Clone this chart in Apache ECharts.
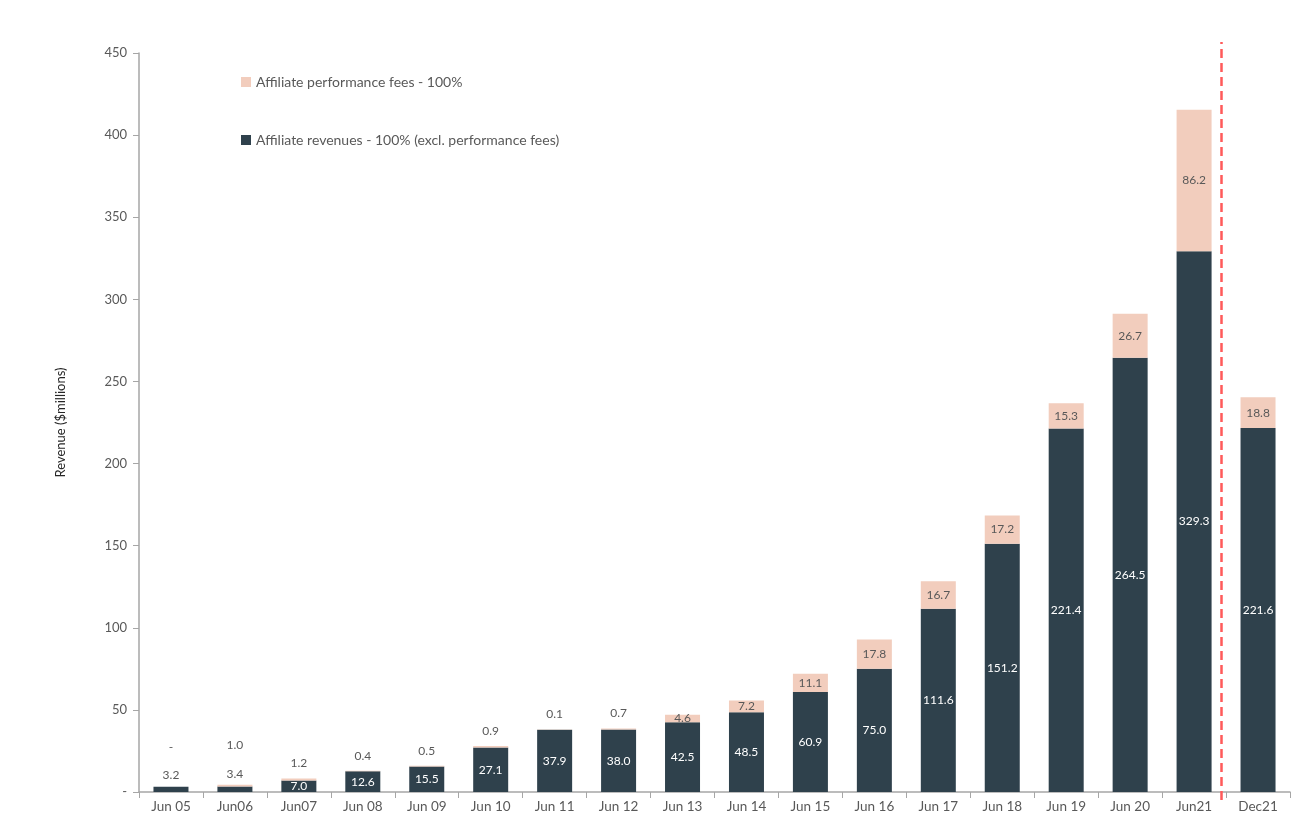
<!DOCTYPE html>
<html>
<head>
<meta charset="utf-8">
<script src="https://cdn.jsdelivr.net/npm/echarts@6/dist/echarts.min.js"></script>
<style>
  html, body { margin: 0; padding: 0; background: #ffffff; }
  #chart { width: 1309px; height: 825px; }
</style>
</head>
<body>
<div id="chart"></div>
<script>
// Periods on the x axis
const categories = ['Jun 05', 'Jun06', 'Jun07', 'Jun 08', 'Jun 09', 'Jun 10', 'Jun 11', 'Jun 12', 'Jun 13',
  'Jun 14', 'Jun 15', 'Jun 16', 'Jun 17', 'Jun 18', 'Jun 19', 'Jun 20', 'Jun21', 'Dec21'];
// Affiliate revenues excluding performance fees ($m)
const revenues = [3.2, 3.4, 7.0, 12.6, 15.5, 27.1, 37.9, 38.0, 42.5, 48.5, 60.9, 75.0, 111.6, 151.2, 221.4, 264.5, 329.3, 221.6];
// Affiliate performance fees ($m)
const perfFees = [0, 1.0, 1.2, 0.4, 0.5, 0.9, 0.1, 0.7, 4.6, 7.2, 11.1, 17.8, 16.7, 17.2, 15.3, 26.7, 86.2, 18.8];
// Position of the divider between the fiscal year-ends and the half-year (in category units)
const dividerAt = [16.93];

const DARK = '#2f414c';
const PINK = '#f2cdbd';
const TEXT = '#595959';
const FONT = 'Lato';

const fmt = v => (v === 0 ? '-' : v.toFixed(1));

// Revenue bars: white label inside; tiny bars get a grey label above
const revData = revenues.map(v => {
  const small = v < 5;
  return {
    value: v,
    label: small
      ? { position: 'top', color: TEXT, distance: 6 }
      : { position: 'inside', color: '#ffffff' }
  };
});

// Performance-fee bars: label inside when the bar is tall enough, above otherwise
const feeData = perfFees.map((v, i) => {
  const small = v < 3;
  const stackedOverLabel = revenues[i] < 5;
  return {
    value: v,
    label: small
      ? { position: 'top', color: TEXT, distance: stackedOverLabel ? 34 : 9 }
      : { position: 'inside', color: TEXT }
  };
});

const chart = echarts.init(document.getElementById('chart'));
chart.setOption({
  backgroundColor: '#ffffff',
  textStyle: { fontFamily: FONT },
  animation: false,
  legend: {
    left: 236,
    top: 70,
    orient: 'vertical',
    itemGap: 44,
    itemWidth: 10,
    itemHeight: 10,
    icon: 'rect',
    textStyle: { color: TEXT, fontSize: 14, fontFamily: FONT },
    data: ['Affiliate performance fees - 100%', 'Affiliate revenues - 100% (excl. performance fees)']
  },
  grid: [
    { left: 139, right: 19, top: 53, bottom: 33 },
    { left: 139, right: 19, top: 42, bottom: 25 }
  ],
  xAxis: [
    {
      type: 'category',
      gridIndex: 0,
      data: categories,
      axisLine: { lineStyle: { color: '#a6a6a6', width: 1.5 } },
      axisTick: { show: true, alignWithLabel: false, length: 6, lineStyle: { color: '#a6a6a6' } },
      axisLabel: { color: TEXT, fontSize: 13.5, margin: 8, interval: 0, fontFamily: FONT }
    },
    {
      type: 'value',
      gridIndex: 1,
      min: 0,
      max: 18,
      show: false
    }
  ],
  yAxis: [
    {
      type: 'value',
      gridIndex: 0,
      min: 0,
      max: 450,
      interval: 50,
      name: 'Revenue ($millions)',
      nameLocation: 'middle',
      nameGap: 72,
      nameTextStyle: { color: '#262626', fontSize: 13, fontFamily: FONT },
      axisLine: { show: true, lineStyle: { color: '#a6a6a6', width: 1.5 } },
      axisTick: { show: true, length: 6, lineStyle: { color: '#a6a6a6' } },
      axisLabel: { color: TEXT, fontSize: 13, margin: 12, fontFamily: FONT, formatter: v => (v === 0 ? '-' : v) },
      splitLine: { show: false }
    },
    {
      type: 'value',
      gridIndex: 1,
      min: 0,
      max: 1,
      show: false
    }
  ],
  series: [
    {
      name: 'Affiliate revenues - 100% (excl. performance fees)',
      type: 'bar',
      stack: 'total',
      xAxisIndex: 0,
      yAxisIndex: 0,
      barWidth: 35,
      itemStyle: { color: DARK },
      label: { show: true, fontSize: 12, fontFamily: FONT, formatter: p => fmt(p.value) },
      data: revData
    },
    {
      name: 'Affiliate performance fees - 100%',
      type: 'bar',
      stack: 'total',
      xAxisIndex: 0,
      yAxisIndex: 0,
      barWidth: 35,
      itemStyle: { color: PINK },
      label: { show: true, fontSize: 12, fontFamily: FONT, formatter: p => fmt(p.value) },
      data: feeData
    },
    {
      // Divider line between annual and half-year figures
      type: 'line',
      xAxisIndex: 1,
      yAxisIndex: 1,
      data: [],
      silent: true,
      markLine: {
        symbol: 'none',
        silent: true,
        label: { show: false },
        lineStyle: { color: '#ff5a5a', type: [9, 5], width: 2.5 },
        data: dividerAt.map(x => ({ xAxis: x }))
      }
    }
  ]
});
</script>
</body>
</html>
